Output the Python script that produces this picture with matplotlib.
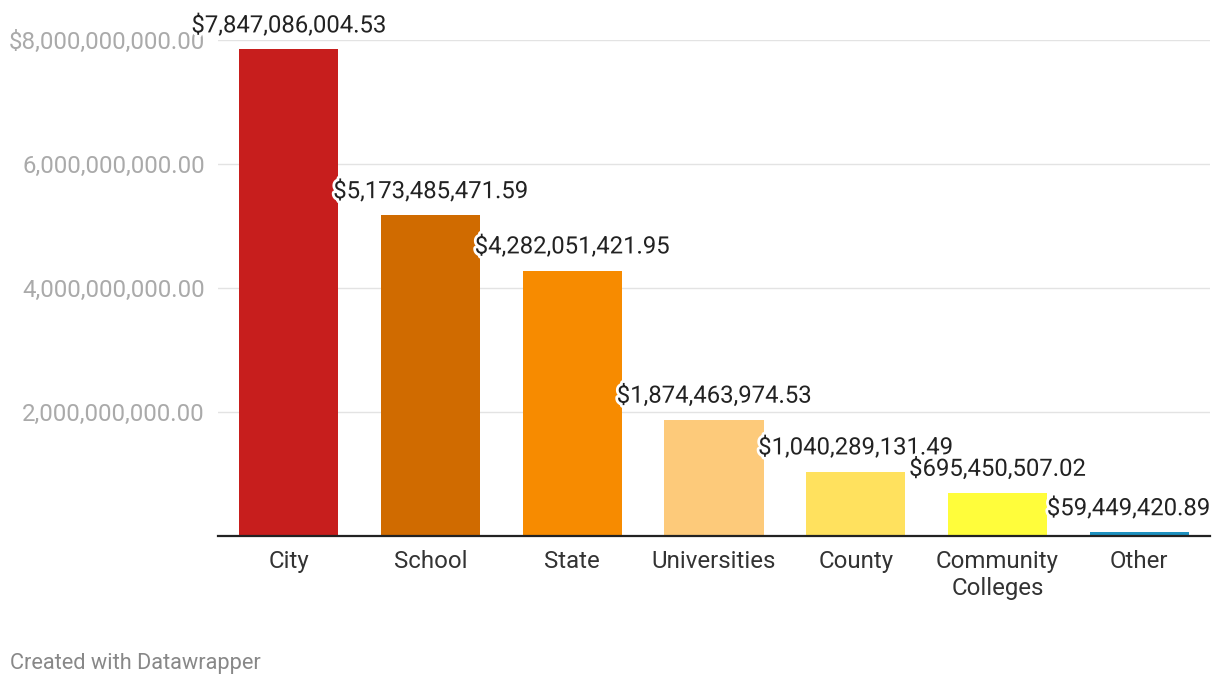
import matplotlib
matplotlib.use("Agg")
import matplotlib.pyplot as plt
import matplotlib.patheffects as pe
from matplotlib.ticker import FuncFormatter

categories = ["City", "School", "State", "Universities", "County", "Community\nColleges", "Other"]
values = [7847086004.53, 5173485471.59, 4282051421.95, 1874463974.53,
          1040289131.49, 695450507.02, 59449420.89]
colors = ["#c71e1d", "#d06b00", "#f78b00", "#fdca7a", "#ffe15e", "#fffd3b", "#1d91c0"]
yticks = [0, 2e9, 4e9, 6e9, 8e9]

plt.rcParams['font.family'] = ['Roboto', 'DejaVu Sans']

fig = plt.figure(figsize=(12.2, 6.86), dpi=100)
ax = fig.add_axes([218/1220, (686-536)/686, (1210-218)/1220, (536-40)/686])

x = list(range(len(categories)))
ax.bar(x, values, width=0.7, color=colors, zorder=2)
ax.set_xlim(-0.5, 6.5)
ax.set_ylim(0, 8e9)

ax.set_yticks(yticks[1:])
def fmt(v, pos):
    s = f"{v:,.2f}"
    return "$" + s if v == yticks[-1] else s
ax.yaxis.set_major_formatter(FuncFormatter(fmt))
ax.tick_params(axis='y', length=0, labelsize=17.3, labelcolor="#aaaaaa", pad=9.4)
ax.tick_params(axis='x', length=0, labelsize=17.3, labelcolor="#333333", pad=10)
ax.set_xticks(x)
ax.set_xticklabels(categories, linespacing=1.22)
ax.yaxis.grid(True, color="#e3e3e3", linewidth=1, zorder=0)
for s in ["top", "right", "left"]:
    ax.spines[s].set_visible(False)
ax.spines["bottom"].set_color("#222222")
ax.spines["bottom"].set_linewidth(1.6)
ax.spines["bottom"].set_zorder(3)

fig.canvas.draw()
renderer = fig.canvas.get_renderer()
right_px = ax.get_window_extent().x1
for xi, v in zip(x, values):
    t = ax.annotate(f"${v:,.2f}", (xi, v), xytext=(0, 17), textcoords="offset points",
                    ha="center", va="center", fontsize=17.2, color="#222222", zorder=5,
                    annotation_clip=False,
                    path_effects=[pe.withStroke(linewidth=4, foreground="white")])
    bb = t.get_window_extent(renderer)
    if bb.x1 > right_px:
        shift = (bb.x1 - right_px) * 72 / fig.dpi
        t.set_position((-shift, 17))

fig.text(10/1220, 1-663/686, "Created with Datawrapper", fontsize=15.7, color="#888888",
         ha="left", va="center")

fig.savefig("out.png", dpi=100, facecolor="white")
